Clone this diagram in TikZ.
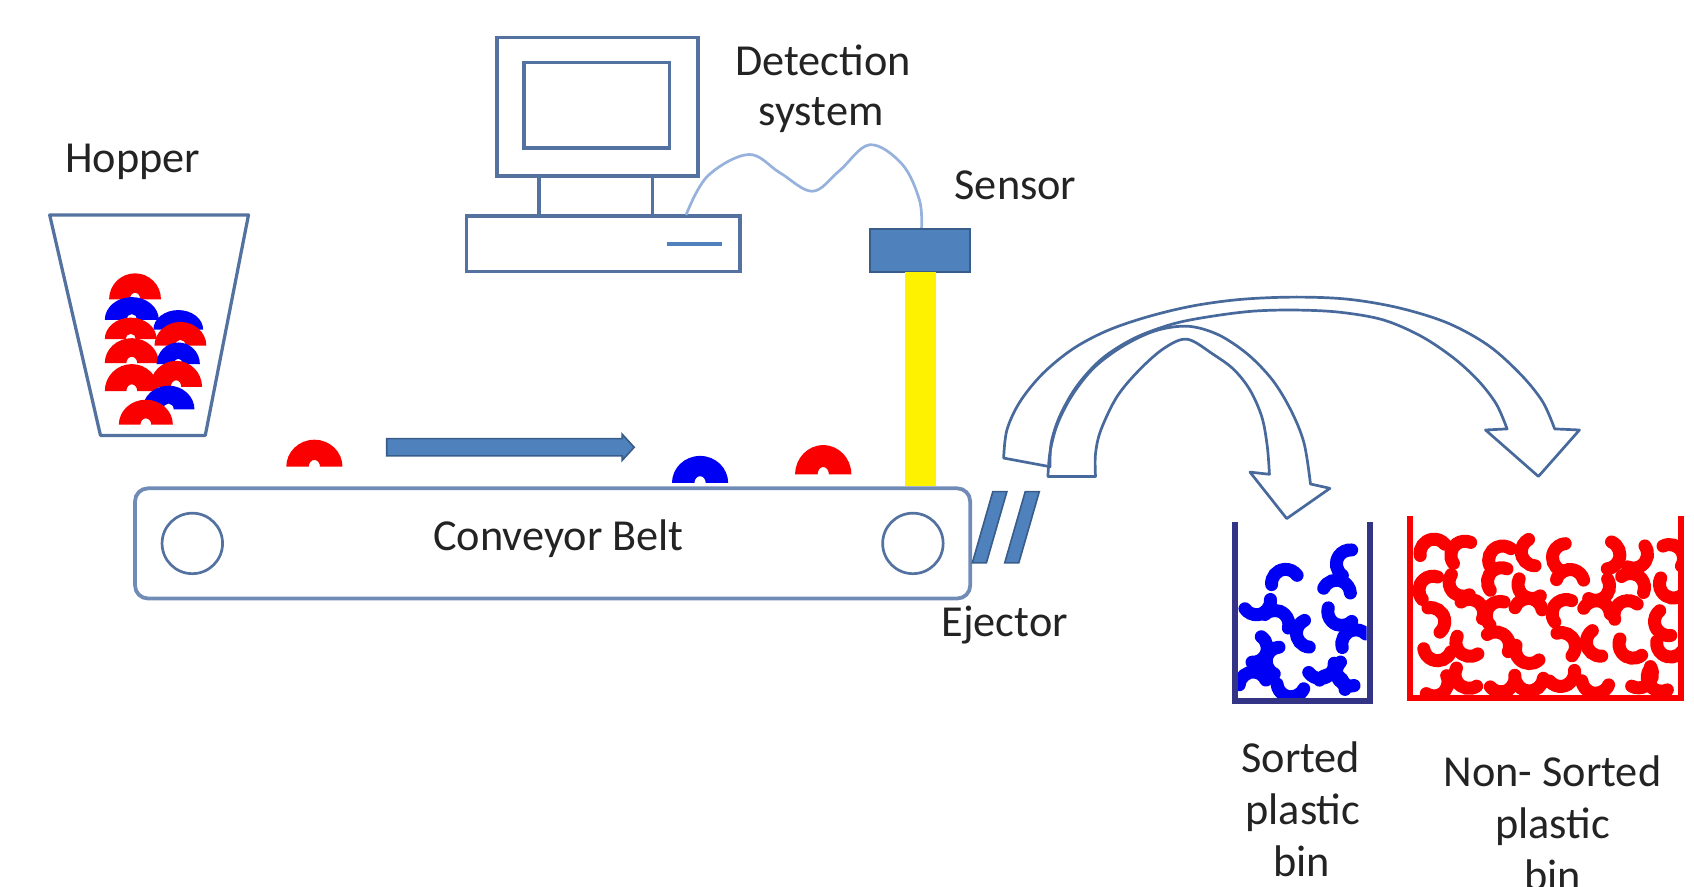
\documentclass[tikz,border=0pt]{standalone}
\usepackage{fontspec}
\setmainfont{Carlito}
\definecolor{steel}{RGB}{84,114,160}
\definecolor{beltline}{RGB}{112,140,182}
\definecolor{office}{RGB}{79,129,189}
\definecolor{officedark}{RGB}{56,93,138}
\definecolor{wire}{RGB}{150,178,220}
\definecolor{txt}{RGB}{35,35,35}
\definecolor{pblue}{RGB}{0,0,245}
\definecolor{pred}{RGB}{250,0,0}
\definecolor{binblue}{RGB}{52,52,135}
\definecolor{arrowline}{RGB}{72,105,155}
% arch-shaped pellet: centre x, bottom y, half width, height, colour
\newcommand\archshape[5]{\fill[#5] ({#1-#3},#2) arc[start angle=180,end angle=360,x radius=#3,y radius=#4] -- ({#1+0.2*#3},#2) arc[start angle=360,end angle=180,x radius={0.2*#3},y radius={0.25*#4}] -- cycle;}
% curved bean: centre x, centre y, rotation, colour
\newcommand\beanat[4]{\draw[#4, line width=12pt, line cap=round, rotate around={#3:(#1,#2)}] (#1,#2) ++(195:13) arc[start angle=195,end angle=345,radius=13];}
\begin{document}
\begin{tikzpicture}[x=1pt,y=-1pt,
  lbl/.style={font=\fontsize{41}{48}\selectfont, text=txt, inner sep=0pt, anchor=base},
  outline/.style={draw=steel, line width=3pt},
  bigarrow/.style={draw=arrowline, line width=2.5pt, line join=round}]
\useasboundingbox (0,0) rectangle (1568,821);

% ---------- hopper ----------
\node[lbl] (hopper) at (123,160) {Hopper};
\draw[outline, line join=round] (46,199) -- (230,199) -- (190,403) -- (93,403) -- cycle;
\archshape{125}{277}{24}{24}{pred}
\archshape{122}{296}{25}{21}{pblue}
\archshape{165}{305}{23}{18}{pblue}
\archshape{121}{314}{24}{20}{pred}
\archshape{167}{320}{24}{22}{pred}
\archshape{122}{336}{25}{23}{pred}
\archshape{165}{337}{20}{20}{pblue}
\archshape{163}{358}{24}{24}{pred}
\archshape{122}{362}{25}{25}{pred}
\archshape{156}{379}{24}{22}{pblue}
\archshape{135}{393}{25}{23}{pred}

% ---------- computer ----------
\draw[outline] (460,35) rectangle (646,163);
\draw[outline] (485,58) rectangle (620,137);
\draw[outline] (499,163) -- (499,200);
\draw[outline] (604,163) -- (604,200);
\draw[outline] (432,200) rectangle (685,251);
\draw[office, line width=4pt] (617,226) -- (668,226);
\node[lbl] (detect) at (762,70) {Detection};
\node[lbl] (detect2) at (760,116) {system};

% ---------- sensor, cable and beam ----------
\filldraw[fill=office, draw=officedark, line width=2pt] (805,212) rectangle (898,252);
\draw[wire, line width=2.5pt] plot[smooth, tension=0.6] coordinates
  {(635,199) (655,163) (693,143) (722,160) (752,177) (777,158) (805,134) (835,152) (851,185) (853,211)};
\node[lbl] (sensor) at (940,185) {Sensor};
\fill[yellow] (838,252) rectangle (866,450);

% ---------- conveyor ----------
\draw[beltline, line width=3.5pt, rounded corners=12pt] (125,452) rectangle (898,554);
\draw[steel, line width=2.5pt] (178,503) circle[radius=28];
\draw[steel, line width=2.5pt] (845,503) circle[radius=28];
\node[lbl] (belt) at (517,510) {Conveyor Belt};
\filldraw[fill=office, draw=officedark, line width=1.5pt]
  (358,406) -- (576,406) -- (576,402) -- (587,414) -- (576,426) -- (576,422) -- (358,422) -- cycle;
\archshape{291}{432}{26}{25}{pred}
\archshape{648}{447}{26}{25}{pblue}
\archshape{762}{439}{26}{27}{pred}

% ---------- ejector ----------
\filldraw[fill=office, draw=officedark, line width=1.5pt] (919,455) -- (932,455) -- (913,521) -- (900,521) -- cycle;
\filldraw[fill=office, draw=officedark, line width=1.5pt] (949,455) -- (962,455) -- (943,521) -- (930,521) -- cycle;
\node[lbl] (ejector) at (930,589) {Ejector};

% ---------- curved block arrows ----------
\draw[bigarrow] plot[smooth, tension=0.55] coordinates
  {(929,424) (932,398) (944,372) (965,346) (993,323) (1025,306) (1063,293) (1105,283) (1150,277) (1200,275) (1248,277) (1295,285) (1340,299) (1378,320) (1408,347) (1428,372) (1439,397)}
  -- (1462,398) -- (1424,441) -- (1375,398) -- (1395,397)
  -- plot[smooth, tension=0.55] coordinates
  {(1395,397) (1385,374) (1368,352) (1345,331) (1315,311) (1280,296) (1240,289) (1200,287) (1160,288) (1120,293) (1085,300) (1050,313) (1020,332) (997,357) (981,385) (973,410) (972,432)}
  -- cycle;
\draw[bigarrow] plot[smooth, tension=0.55] coordinates
  {(970,441) (972,418) (979,392) (993,365) (1013,340) (1040,320) (1070,306) (1100,302) (1128,310) (1155,328) (1178,352) (1195,380) (1207,410) (1213,448)}
  -- (1231,452) -- (1191,480) -- (1157,437) -- (1175,439)
  -- plot[smooth, tension=0.55] coordinates
  {(1175,439) (1173,413) (1168,386) (1157,361) (1142,342) (1123,328) (1099,314) (1078,322) (1055,342) (1034,367) (1019,398) (1014,420) (1014,441)}
  -- cycle;

% ---------- sorted bin ----------
\begin{scope}
\clip (1146,480) rectangle (1265,646);
\beanat{1250}{522}{70}{pblue}
\beanat{1190}{540}{20}{pblue}
\beanat{1237}{550}{-10}{pblue}
\beanat{1163}{556}{200}{pblue}
\beanat{1242}{566}{150}{pblue}
\beanat{1180}{578}{-30}{pblue}
\beanat{1213}{586}{100}{pblue}
\beanat{1255}{596}{30}{pblue}
\beanat{1160}{600}{250}{pblue}
\beanat{1185}{612}{80}{pblue}
\beanat{1222}{615}{200}{pblue}
\beanat{1160}{635}{10}{pblue}
\beanat{1195}{632}{170}{pblue}
\beanat{1232}{637}{-20}{pblue}
\beanat{1250}{622}{120}{pblue}
\end{scope}
\draw[binblue, line width=5pt] (1143,483) -- (1143,649) -- (1268,649) -- (1268,483);
\node[lbl] (s1) at (1204,715) {Sorted};
\node[lbl] (s2) at (1206,763) {plastic};
\node[lbl] (s3) at (1205,811) {bin};

% ---------- non-sorted bin ----------
\pgfmathsetseed{42}
\begin{scope}
\clip (1308,470) rectangle (1553,643);
\foreach \i in {0,...,7}{\foreach \j in {0,...,4}{
  \pgfmathsetmacro\bx{1326+\i*31+6*rand}
  \pgfmathsetmacro\by{515+\j*28+5*rand}
  \pgfmathsetmacro\ba{360*rnd}
  \beanat{\bx}{\by}{\ba}{pred}
}}
\end{scope}
\draw[pred, line width=5pt] (1305,478) -- (1305,646) -- (1556,646) -- (1556,478);
\node[lbl] (n1) at (1437,728) {Non- Sorted};
\node[lbl] (n2) at (1437,776) {plastic};
\node[lbl] (n3) at (1437,824) {bin};
\end{tikzpicture}
\end{document}
